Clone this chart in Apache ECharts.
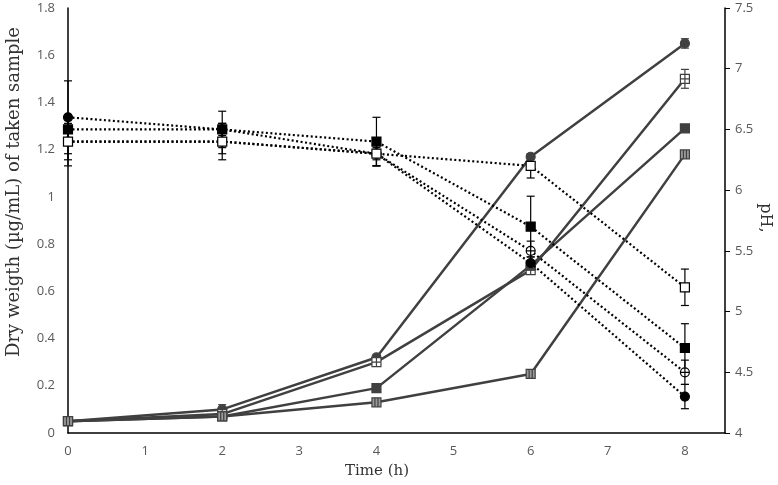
<!DOCTYPE html>
<html>
<head>
<meta charset="utf-8">
<script src="https://cdn.jsdelivr.net/npm/echarts@6/dist/echarts.min.js"></script>
<style>html,body{margin:0;padding:0;background:#fff;}#c{width:778px;height:485px;}</style>
</head>
<body>
<div id="c"></div>
<script>
// ---- data ----
var times = [0, 2, 4, 6, 8];
// Dry weight (left axis)
var dwCircle = [0.05, 0.10, 0.32, 1.17, 1.65];
var dwCircleErr = [0.005, 0.02, 0.01, 0.01, 0.02];
var dwCross = [0.05, 0.08, 0.30, 0.69, 1.50];
var dwCrossErr = [0.005, 0.02, 0.01, 0.01, 0.04];
var dwSquare = [0.05, 0.07, 0.19, 0.71, 1.29];
var dwSquareErr = [0.005, 0.01, 0.005, 0.01, 0.01];
var dwLined = [0.05, 0.07, 0.13, 0.25, 1.18];
var dwLinedErr = [0.005, 0.01, 0.005, 0.005, 0.01];
// pH (right axis)
var phCircle = [6.6, 6.5, 6.3, 5.4, 4.3];
var phCircleErr = [0.3, 0.05, 0.05, 0.05, 0.1];
var phSquare = [6.5, 6.5, 6.4, 5.7, 4.7];
var phSquareErr = [0.1, 0.15, 0.2, 0.25, 0.2];
var phOpenCircle = [6.4, 6.4, 6.3, 5.5, 4.5];
var phOpenCircleErr = [0.15, 0.1, 0.1, 0.08, 0.1];
var phOpenSquare = [6.4, 6.4, 6.3, 6.2, 5.2];
var phOpenSquareErr = [0.2, 0.15, 0.1, 0.1, 0.15];

var xTicks = [0, 1, 2, 3, 4, 5, 6, 7, 8];

function pairs(ys) { return times.map(function (t, i) { return [t, ys[i]]; }); }
function errs(ys, es) { return times.map(function (t, i) { return [t, ys[i] - es[i], ys[i] + es[i]]; }); }

var SYM_CROSS_SQ = 'path://M0,0L10,0L10,10L0,10ZM5,0L5,10M0,5L10,5';
var SYM_LINED_SQ = 'path://M0,0L10,0L10,10L0,10ZM3.3,0L3.3,10M6.7,0L6.7,10';
var SYM_OPLUS = 'path://M10,5A5,5,0,1,1,0,5A5,5,0,1,1,10,5ZM0,5L10,5M5,0L5,10';

var DARK = '#404040';

function lineSeries(name, ys, yIdx, symbol, fill, border, lineColor, dotted) {
  return {
    name: name, type: 'line', yAxisIndex: yIdx, data: pairs(ys),
    symbol: symbol, symbolSize: 9, showSymbol: true,
    lineStyle: { color: lineColor, width: dotted ? 2.2 : 2.5, type: dotted ? [2, 2.5] : 'solid' },
    itemStyle: { color: fill, borderColor: border, borderWidth: 1.2 },
    z: dotted ? 4 : 3, animation: false
  };
}

function errSeries(ys, es, yIdx, color) {
  return {
    type: 'custom', yAxisIndex: yIdx, data: errs(ys, es), z: 2, animation: false,
    encode: { x: 0, y: [1, 2] },
    renderItem: function (params, api) {
      var x = api.value(0);
      var lo = api.coord([x, api.value(1)]);
      var hi = api.coord([x, api.value(2)]);
      var w = 4;
      var st = { stroke: color, lineWidth: 1.2 };
      return {
        type: 'group', children: [
          { type: 'line', shape: { x1: lo[0], y1: lo[1], x2: hi[0], y2: hi[1] }, style: st },
          { type: 'line', shape: { x1: lo[0] - w, y1: lo[1], x2: lo[0] + w, y2: lo[1] }, style: st },
          { type: 'line', shape: { x1: hi[0] - w, y1: hi[1], x2: hi[0] + w, y2: hi[1] }, style: st }
        ]
      };
    }
  };
}

var chart = echarts.init(document.getElementById('c'), null, { renderer: 'canvas' });
var labelStyle = { color: '#595959', fontSize: 13, fontFamily: 'Open Sans' };
chart.setOption({
  backgroundColor: '#fff',
  animation: false,
  grid: { left: 68, right: 53, top: 8, bottom: 52, containLabel: false, outerBoundsMode: 'none' },
  graphic: [{
    type: 'text', x: 14, y: 192, rotation: Math.PI / 2,
    style: { text: 'Dry weigth (\u00b5g/mL) of taken sample', fontFamily: 'DejaVu Serif', fontSize: 18,
      fill: '#333', align: 'center', verticalAlign: 'middle' }
  }, {
    type: 'text', x: 377, y: 471,
    style: { text: 'Time (h)', fontFamily: 'DejaVu Serif', fontSize: 15,
      fill: '#333', align: 'center', verticalAlign: 'middle' }
  }, {
    type: 'text', x: 765, y: 218, rotation: -Math.PI / 2,
    style: { text: 'pH,', fontFamily: 'DejaVu Serif', fontSize: 16,
      fill: '#333', align: 'center', verticalAlign: 'middle' }
  }],
  xAxis: {
    type: 'value', min: 0, max: 8.52, interval: 1,
    axisLine: { show: true, lineStyle: { color: '#000', width: 1.5 } },
    axisTick: { show: false }, splitLine: { show: false },
    axisLabel: Object.assign({ margin: 12, formatter: function (v) { return xTicks.indexOf(v) >= 0 ? String(v) : ''; } }, labelStyle)
  },
  yAxis: [{
    type: 'value', min: 0, max: 1.8, interval: 0.2, position: 'left',
    axisLine: { show: true, lineStyle: { color: '#000', width: 1.5 } },
    axisTick: { show: false }, splitLine: { show: false },
    axisLabel: Object.assign({ margin: 13 }, labelStyle)
  }, {
    type: 'value', min: 4, max: 7.5, interval: 0.5, position: 'right',
    axisLine: { show: true, lineStyle: { color: '#000', width: 1.5 } },
    axisTick: { show: true, inside: false, length: 5, lineStyle: { color: '#000' } },
    splitLine: { show: false },
    axisLabel: Object.assign({ margin: 10 }, labelStyle)
  }],
  series: [
    errSeries(dwCircle, dwCircleErr, 0, DARK),
    errSeries(dwCross, dwCrossErr, 0, DARK),
    errSeries(dwSquare, dwSquareErr, 0, DARK),
    errSeries(dwLined, dwLinedErr, 0, DARK),
    errSeries(phCircle, phCircleErr, 1, '#000'),
    errSeries(phSquare, phSquareErr, 1, '#000'),
    errSeries(phOpenCircle, phOpenCircleErr, 1, '#000'),
    errSeries(phOpenSquare, phOpenSquareErr, 1, '#000'),
    lineSeries('dwCircle', dwCircle, 0, 'circle', DARK, DARK, DARK, false),
    lineSeries('dwCross', dwCross, 0, SYM_CROSS_SQ, '#fff', DARK, DARK, false),
    lineSeries('dwSquare', dwSquare, 0, 'rect', DARK, DARK, DARK, false),
    lineSeries('dwLined', dwLined, 0, SYM_LINED_SQ, '#999', DARK, DARK, false),
    lineSeries('phCircle', phCircle, 1, 'circle', '#000', '#000', '#000', true),
    lineSeries('phSquare', phSquare, 1, 'rect', '#000', '#000', '#000', true),
    lineSeries('phOpenCircle', phOpenCircle, 1, SYM_OPLUS, '#fff', '#000', '#000', true),
    lineSeries('phOpenSquare', phOpenSquare, 1, 'rect', '#fff', '#000', '#000', true)
  ]
});
</script>
</body>
</html>
